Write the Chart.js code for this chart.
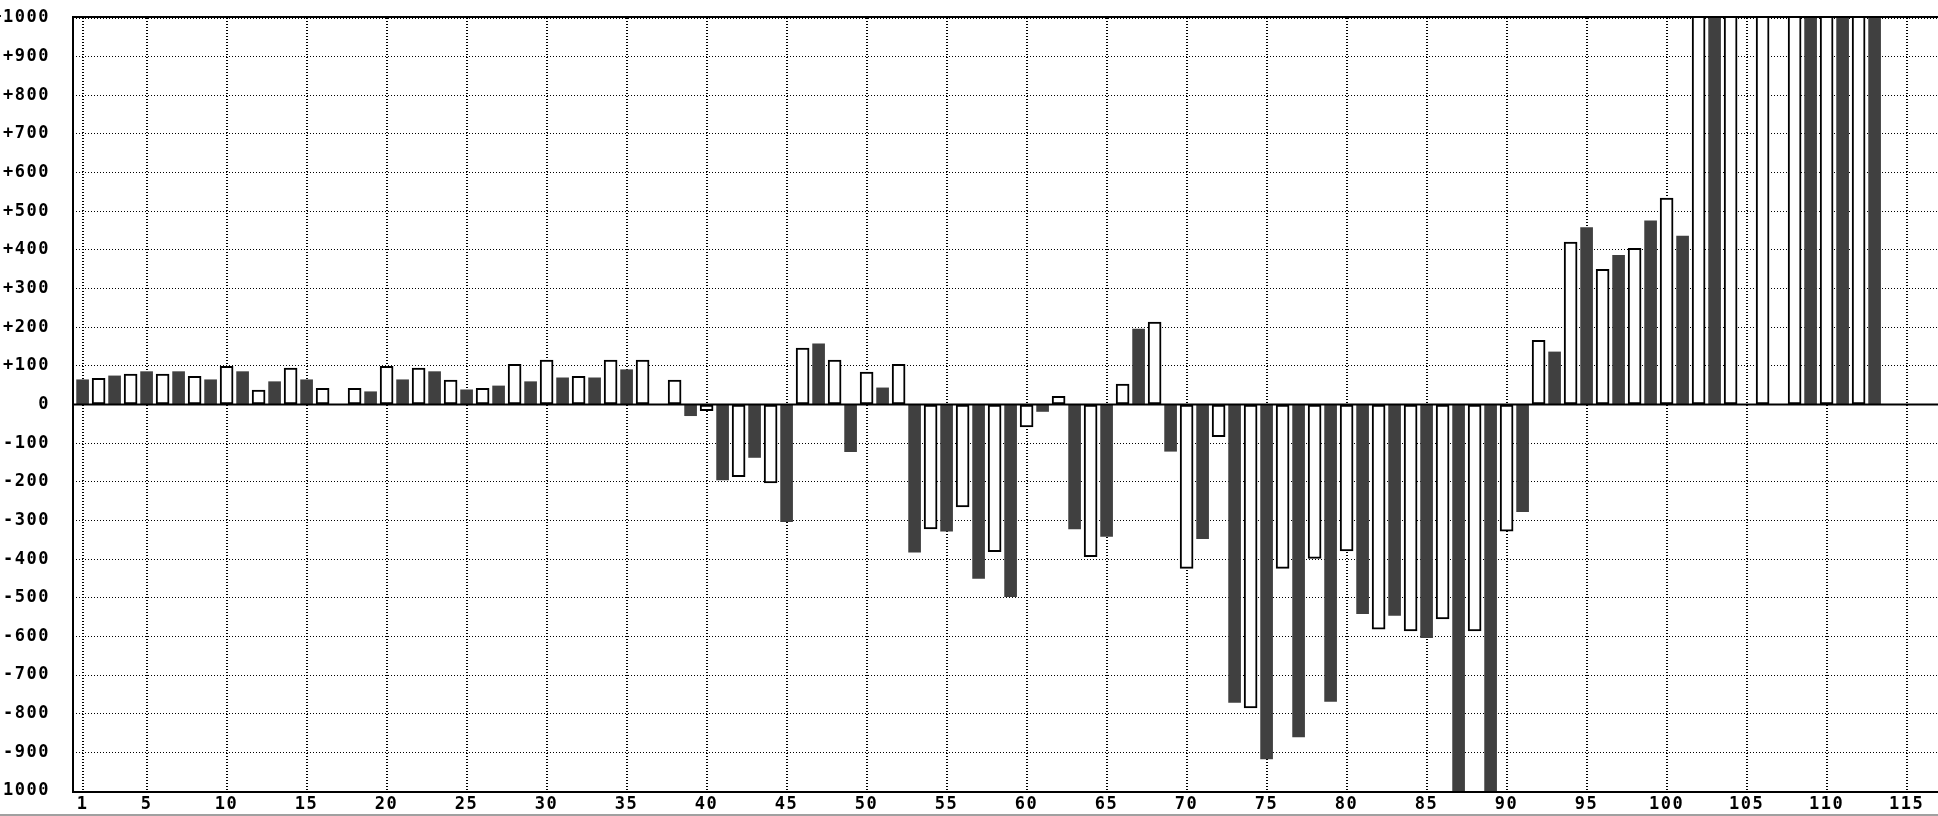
<!DOCTYPE html>
<html>
<head>
<meta charset="utf-8">
<script src="https://cdn.jsdelivr.net/npm/chart.js@4.4.1/dist/chart.umd.min.js"></script>
<style>
    html, body { margin: 0; padding: 0; background: #fff; overflow: hidden; }
    #wrap { width: 1938px; height: 816px; }
    canvas { display: block; }
    .bottom-line { height: 2px; background: #a0a0a0; }
</style>
</head>
<body>
<div id="wrap">
    <canvas id="chart" width="1938" height="814"></canvas>
    <div class="bottom-line"></div>
</div>
<script>
// Data (one bar per category; odd = dark, even = white)
const categories = [];
for (let i = 1; i <= 113; i++) categories.push(i);

const values = [
    64, 68, 74, 79, 85, 79, 85, 73, 64, 99,
    85, 37, 59, 94, 64, 42, 0, 42, 33, 99,
    64, 94, 85, 63, 38, 42, 48, 104, 59, 115,
    69, 73, 69, 115, 90, 115, 0, 63, -29, -16,
    -195, -187, -137, -203, -303, 146, 157, 115, -122, 84,
    43, 104, -382, -322, -328, -265, -450, -381, -497, -58,
    -18, 21, -322, -394, -341, 53, 195, 213, -121, -424,
    -347, -83, -771, -785, -917, -424, -860, -398, -768, -379,
    -541, -581, -546, -586, -603, -555, -1200, -586, -1200, -328,
    -277, 166, 136, 420, 458, 350, 386, 404, 475, 534,
    436, 1200, 1200, 1200, 0, 1200, 0, 1200, 1200, 1200,
    1200, 1200, 1200
];

const xTickLabels = [1, 5, 10, 15, 20, 25, 30, 35, 40, 45, 50, 55, 60, 65, 70, 75, 80, 85, 90, 95, 100, 105, 110, 115];
const yMin = -1000;
const yMax = 1000;
const yStep = 100;

// Split into the two bar styles
const darkPoints = [];
const whitePoints = [];
categories.forEach((c, i) => {
    const p = { x: c, y: values[i] };
    if (c % 2 === 1) darkPoints.push(p);
    else whitePoints.push(p);
});

// Frame, zero line and the wide letter spacing of the labels
const framePlugin = {
    id: 'frame',
    beforeDraw(chart) {
        chart.ctx.letterSpacing = '1.5px';
    },
    afterDatasetsDraw(chart) {
        const { ctx, chartArea: a, scales } = chart;
        const y0 = scales.y.getPixelForValue(0);
        ctx.save();
        ctx.strokeStyle = '#000';
        ctx.lineWidth = 2;
        ctx.setLineDash([]);
        ctx.beginPath();
        ctx.moveTo(a.left, y0);
        ctx.lineTo(a.right, y0);
        ctx.moveTo(a.right, a.top - 1);
        ctx.lineTo(a.left, a.top - 1);
        ctx.lineTo(a.left, a.bottom + 1);
        ctx.lineTo(a.right, a.bottom + 1);
        ctx.stroke();
        ctx.restore();
    }
};

const labelFont = { family: '"DejaVu Sans Mono", monospace', size: 17, weight: 'bold' };

new Chart(document.getElementById('chart'), {
    type: 'bar',
    data: {
        datasets: [
            {
                data: darkPoints,
                backgroundColor: '#404040',
                borderWidth: 0,
                barThickness: 12,
                grouped: false
            },
            {
                data: whitePoints,
                backgroundColor: '#ffffff',
                borderColor: '#000000',
                borderWidth: 2,
                borderSkipped: false,
                barThickness: 13,
                grouped: false
            }
        ]
    },
    plugins: [framePlugin],
    options: {
        responsive: false,
        animation: false,
        layout: { padding: { top: 18, right: 0, bottom: 0, left: 0 } },
        plugins: {
            legend: { display: false },
            tooltip: { enabled: false }
        },
        scales: {
            x: {
                type: 'linear',
                offset: false,
                min: 0.4,
                max: 0.4 + 1865 / 16,
                afterBuildTicks: (scale) => {
                    scale.ticks = xTickLabels.map(v => ({ value: v }));
                },
                afterFit: (scale) => {
                    scale.height = 23;
                    scale.paddingLeft = 0;
                    scale.paddingRight = 0;
                },
                grid: { color: '#000', lineWidth: 2, drawTicks: false, offset: false },
                border: { display: false, dash: [1, 2] },
                ticks: {
                    color: '#000',
                    font: labelFont,
                    padding: 3,
                    maxRotation: 0,
                    autoSkip: false,
                    callback: (v) => String(v)
                }
            },
            y: {
                min: yMin,
                max: yMax,
                afterFit: (scale) => {
                    scale.width = 73;
                    scale.paddingTop = 0;
                    scale.paddingBottom = 0;
                },
                grid: { color: '#000', lineWidth: 1, drawTicks: false },
                border: { display: false, dash: [1, 2] },
                ticks: {
                    stepSize: yStep,
                    color: '#000',
                    font: labelFont,
                    padding: 23,
                    callback: (v) => (v > 0 ? '+' + v : String(v))
                }
            }
        }
    }
});
</script>
</body>
</html>
